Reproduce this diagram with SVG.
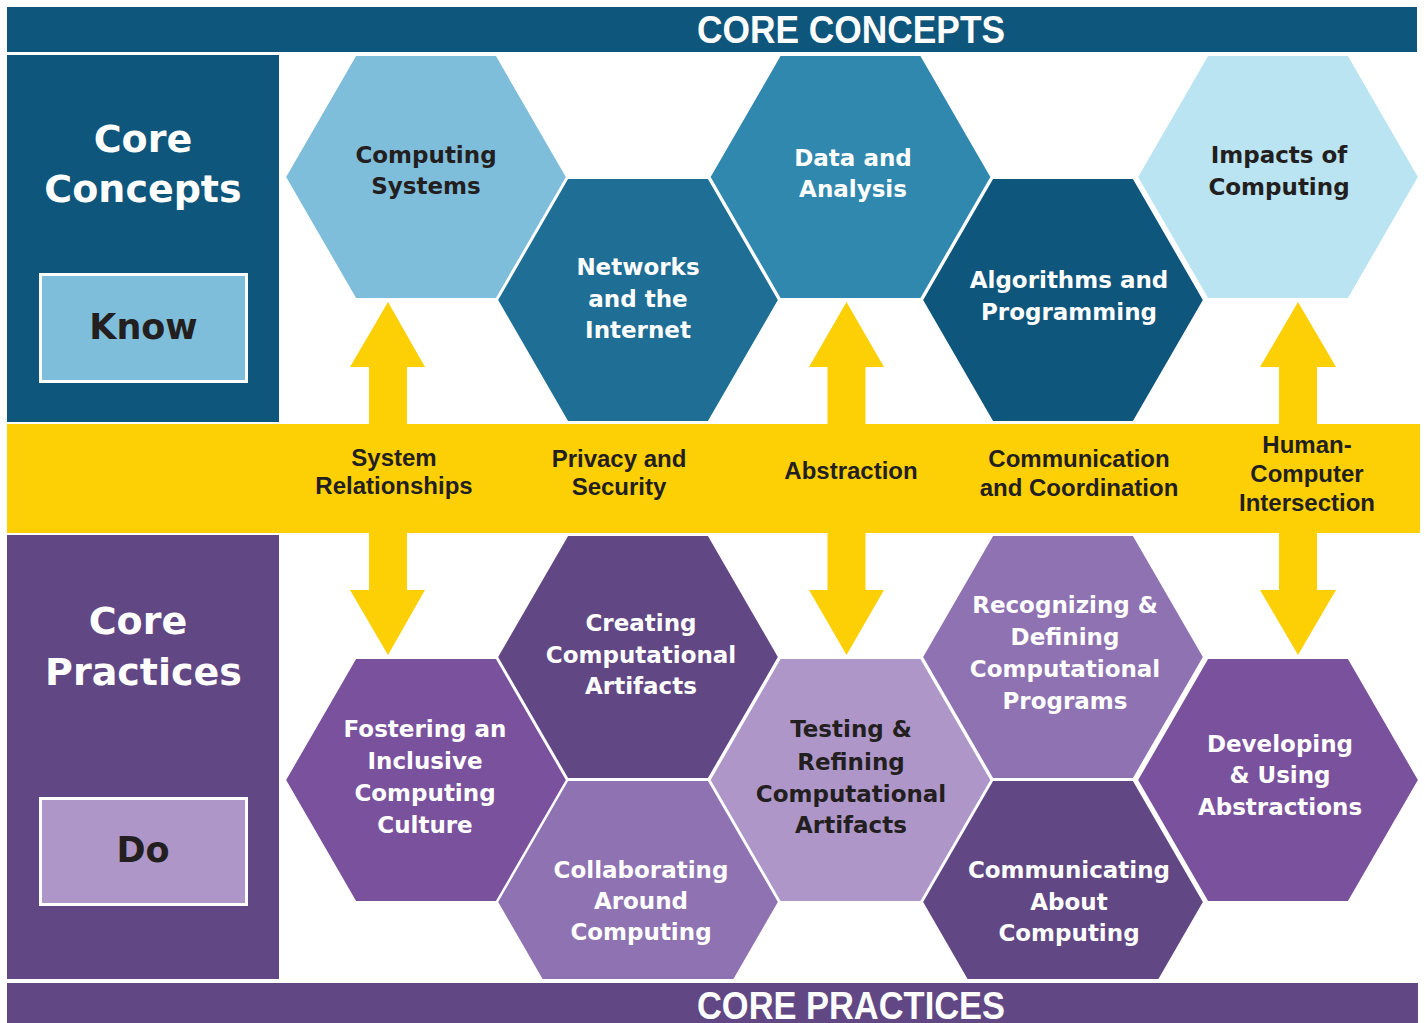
<svg xmlns="http://www.w3.org/2000/svg" width="1425" height="1023" viewBox="0 0 1425 1023">
<defs>
<style>
.hex{stroke:#ffffff;stroke-width:2;stroke-linejoin:miter}
.hl{font-family:"DejaVu Sans","Liberation Sans",sans-serif;font-weight:bold;font-size:23px;text-anchor:middle}
.bl{font-family:"Liberation Sans",Arial,sans-serif;font-weight:bold;font-size:24px;text-anchor:middle;fill:#231f20}
.big{font-family:"DejaVu Sans","Liberation Sans",sans-serif;font-weight:bold;font-size:38px;text-anchor:middle;fill:#ffffff}
.kd{font-family:"DejaVu Sans","Liberation Sans",sans-serif;font-weight:bold;font-size:35px;text-anchor:middle;fill:#231f20}
.title{font-family:"Liberation Sans",Arial,sans-serif;font-weight:bold;font-size:39px;text-anchor:middle;fill:#ffffff}
.w{fill:#ffffff}
.d{fill:#231f20}
.arrow{fill:#fdd005}
</style>
</defs>
<rect width="1425" height="1023" fill="#ffffff"/>

<g id="header-core-concepts">
<rect x="7" y="7" width="1410" height="45" fill="#0f567c"/>
<text class="title" x="851" y="43" textLength="308" lengthAdjust="spacingAndGlyphs">CORE CONCEPTS</text>
</g>

<g id="panel-core-concepts">
<rect x="7" y="55" width="272" height="367" fill="#0f567c"/>
<text class="big" x="143" y="152">Core</text>
<text class="big" x="143" y="202">Concepts</text>
</g>
<g id="box-know">
<rect x="40.5" y="274.5" width="206" height="107" fill="#7fbedb" stroke="#ffffff" stroke-width="3"/>
<text class="kd" x="143.5" y="339">Know</text>
</g>

<g id="connectors">
<polygon class="arrow" points="388,302 425,367 407,367 407,590 425,590 388,655 350,590 369,590 369,367 350,367"/>
<polygon class="arrow" points="846.5,302 884,367 865.5,367 865.5,590 884,590 846.5,655 809,590 827.5,590 827.5,367 809,367"/>
<polygon class="arrow" points="1298,302 1336,367 1317,367 1317,590 1336,590 1298,655 1260,590 1279,590 1279,367 1260,367"/>
</g>

<g id="band">
<rect x="7" y="424" width="1413" height="109" fill="#fdd005"/>
</g>
<g id="label-system-relationships">
<text class="bl" x="394" y="466">System</text>
<text class="bl" x="394" y="494">Relationships</text>
</g>
<g id="label-privacy-security">
<text class="bl" x="619" y="467">Privacy and</text>
<text class="bl" x="619" y="495">Security</text>
</g>
<g id="label-abstraction">
<text class="bl" x="851" y="479">Abstraction</text>
</g>
<g id="label-communication-coordination">
<text class="bl" x="1079" y="467">Communication</text>
<text class="bl" x="1079" y="496">and Coordination</text>
</g>
<g id="label-human-computer">
<text class="bl" x="1307" y="453">Human-</text>
<text class="bl" x="1307" y="482">Computer</text>
<text class="bl" x="1307" y="511">Intersection</text>
</g>

<g id="panel-core-practices">
<rect x="7" y="535" width="272" height="444" fill="#624785"/>
<text class="big" x="138" y="634">Core</text>
<text class="big" x="143.5" y="685">Practices</text>
</g>
<g id="box-do">
<rect x="40.5" y="798.5" width="206" height="106" fill="#ae97c8" stroke="#ffffff" stroke-width="3"/>
<text class="kd" x="143" y="862">Do</text>
</g>

<g id="header-core-practices">
<rect x="7" y="983" width="1411" height="40" fill="#624785"/>
<text class="title" x="851" y="1019" textLength="308" lengthAdjust="spacingAndGlyphs">CORE PRACTICES</text>
</g>

<g id="hex-computing-systems">
<polygon class="hex" fill="#7fbedb" points="285,177 355.5,55 496.5,55 567,177 496.5,299 355.5,299"/>
<text class="hl d" x="426" y="163">Computing</text>
<text class="hl d" x="426" y="194">Systems</text>
</g>
<g id="hex-networks">
<polygon class="hex" fill="#1e6e95" points="497,300 567.5,178 708.5,178 779,300 708.5,422 567.5,422"/>
<text class="hl w" x="638" y="275">Networks</text>
<text class="hl w" x="638" y="307">and the</text>
<text class="hl w" x="638" y="338">Internet</text>
</g>
<g id="hex-data-analysis">
<polygon class="hex" fill="#3088ae" points="709.5,177 780,55 921,55 991.5,177 921,299 780,299"/>
<text class="hl w" x="853" y="166">Data and</text>
<text class="hl w" x="853" y="197">Analysis</text>
</g>
<g id="hex-algorithms">
<polygon class="hex" fill="#0f567c" points="922,300 992.5,178 1133.5,178 1204,300 1133.5,422 992.5,422"/>
<text class="hl w" x="1069" y="288">Algorithms and</text>
<text class="hl w" x="1069" y="320">Programming</text>
</g>
<g id="hex-impacts">
<polygon class="hex" fill="#bae4f2" points="1137,177 1207.5,55 1348.5,55 1419,177 1348.5,299 1207.5,299"/>
<text class="hl d" x="1279" y="163">Impacts of</text>
<text class="hl d" x="1279" y="195">Computing</text>
</g>

<g id="hex-fostering">
<polygon class="hex" fill="#7a519d" points="285,780 355.5,658 496.5,658 567,780 496.5,902 355.5,902"/>
<text class="hl w" x="425" y="737">Fostering an</text>
<text class="hl w" x="425" y="769">Inclusive</text>
<text class="hl w" x="425" y="801">Computing</text>
<text class="hl w" x="425" y="833">Culture</text>
</g>
<g id="hex-creating">
<polygon class="hex" fill="#624785" points="497,657 567.5,535 708.5,535 779,657 708.5,779 567.5,779"/>
<text class="hl w" x="641" y="631">Creating</text>
<text class="hl w" x="641" y="663">Computational</text>
<text class="hl w" x="641" y="694">Artifacts</text>
</g>
<g id="hex-collaborating">
<polygon class="hex" fill="#8f72b1" points="497,902 567.5,780 708.5,780 779,902 734,980 542,980"/>
<text class="hl w" x="641" y="878">Collaborating</text>
<text class="hl w" x="641" y="909">Around</text>
<text class="hl w" x="641" y="940">Computing</text>
</g>
<g id="hex-testing">
<polygon class="hex" fill="#ae97c8" points="709.5,780 780,658 921,658 991.5,780 921,902 780,902"/>
<text class="hl d" x="851" y="737">Testing &amp;</text>
<text class="hl d" x="851" y="770">Refining</text>
<text class="hl d" x="851" y="802">Computational</text>
<text class="hl d" x="851" y="833">Artifacts</text>
</g>
<g id="hex-recognizing">
<polygon class="hex" fill="#8f72b1" points="922,657 992.5,535 1133.5,535 1204,657 1133.5,779 992.5,779"/>
<text class="hl w" x="1065" y="613">Recognizing &amp;</text>
<text class="hl w" x="1065" y="645">Defining</text>
<text class="hl w" x="1065" y="677">Computational</text>
<text class="hl w" x="1065" y="709">Programs</text>
</g>
<g id="hex-communicating">
<polygon class="hex" fill="#624785" points="922,902 992.5,780 1133.5,780 1204,902 1159,980 967,980"/>
<text class="hl w" x="1069" y="878">Communicating</text>
<text class="hl w" x="1069" y="910">About</text>
<text class="hl w" x="1069" y="941">Computing</text>
</g>
<g id="hex-developing">
<polygon class="hex" fill="#7a519d" points="1137,780 1207.5,658 1348.5,658 1419,780 1348.5,902 1207.5,902"/>
<text class="hl w" x="1280" y="752">Developing</text>
<text class="hl w" x="1280" y="783">&amp; Using</text>
<text class="hl w" x="1280" y="815">Abstractions</text>
</g>
</svg>
